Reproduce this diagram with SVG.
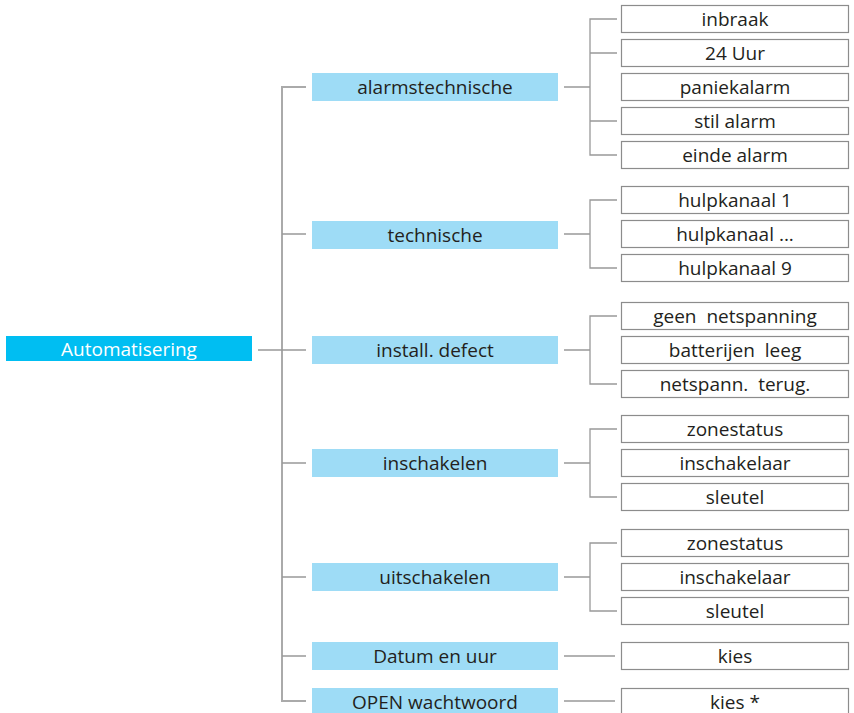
<svg xmlns="http://www.w3.org/2000/svg" width="854" height="713" viewBox="0 0 854 713">
<style>
.root{fill:#00bef2}
.mid{fill:#9edcf6}
.leaf{fill:#fff;stroke:#8c8c8c;stroke-width:1.2}
.t{font-family:"Open Sans","Liberation Sans",sans-serif;font-size:19px;fill:#231f20;text-anchor:middle}
.tw{fill:#fff}
.c{stroke:#999;stroke-width:1.3;fill:none}
.trunk{stroke:#aaa;stroke-width:2;fill:none}
</style>
<rect width="854" height="713" fill="#fff"/>
<g id="connectors">
  <path class="trunk" d="M306 87H282V701H306"/>
  <path class="c" d="M258 350H306M282 234H306M282 463H306M282 577H306M282 656H306"/>
  <path class="c" d="M564 87H590M617 19H590V155H617M590 53H617M590 121H617"/>
  <path class="c" d="M564 234H590M617 200H590V268H617"/>
  <path class="c" d="M564 350H590M617 316H590V384H617"/>
  <path class="c" d="M564 463H590M617 429H590V497H617"/>
  <path class="c" d="M564 577H590M617 543H590V611H617"/>
  <path class="c" d="M564 656H615M564 701H615"/>
</g>
<g id="n-root"><rect class="root" x="6" y="336" width="246" height="25"/><text class="t tw" x="129" y="356">Automatisering</text></g>
<g id="n-alarm"><rect class="mid" x="312" y="73" width="246" height="28"/><text class="t" x="435" y="94">alarmstechnische</text></g>
<g id="n-tech"><rect class="mid" x="312" y="221" width="246" height="28"/><text class="t" x="435" y="242">technische</text></g>
<g id="n-install"><rect class="mid" x="312" y="336" width="246" height="28"/><text class="t" x="435" y="357">install. defect</text></g>
<g id="n-in"><rect class="mid" x="312" y="449" width="246" height="28"/><text class="t" x="435" y="470">inschakelen</text></g>
<g id="n-uit"><rect class="mid" x="312" y="563" width="246" height="28"/><text class="t" x="435" y="584">uitschakelen</text></g>
<g id="n-datum"><rect class="mid" x="312" y="642" width="246" height="28"/><text class="t" x="435" y="663">Datum en uur</text></g>
<g id="n-open"><rect class="mid" x="312" y="688" width="246" height="28"/><text class="t" x="435" y="709">OPEN wachtwoord</text></g>

<g id="l-inbraak"><rect class="leaf" x="621.5" y="5.5" width="227" height="27"/><text class="t" x="735" y="26">inbraak</text></g>
<g id="l-24uur"><rect class="leaf" x="621.5" y="39.5" width="227" height="27"/><text class="t" x="735" y="60">24 Uur</text></g>
<g id="l-paniek"><rect class="leaf" x="621.5" y="73.5" width="227" height="27"/><text class="t" x="735" y="94">paniekalarm</text></g>
<g id="l-stil"><rect class="leaf" x="621.5" y="107.5" width="227" height="27"/><text class="t" x="735" y="128">stil alarm</text></g>
<g id="l-einde"><rect class="leaf" x="621.5" y="141.5" width="227" height="27"/><text class="t" x="735" y="162">einde alarm</text></g>

<g id="l-hulp1"><rect class="leaf" x="621.5" y="186.5" width="227" height="27"/><text class="t" x="735" y="207">hulpkanaal 1</text></g>
<g id="l-hulpx"><rect class="leaf" x="621.5" y="220.5" width="227" height="27"/><text class="t" x="735" y="241">hulpkanaal ...</text></g>
<g id="l-hulp9"><rect class="leaf" x="621.5" y="254.5" width="227" height="27"/><text class="t" x="735" y="275">hulpkanaal 9</text></g>

<g id="l-geen"><rect class="leaf" x="621.5" y="302.5" width="227" height="27"/><text class="t" x="735" y="323" xml:space="preserve">geen  netspanning</text></g>
<g id="l-batt"><rect class="leaf" x="621.5" y="336.5" width="227" height="27"/><text class="t" x="735" y="357" xml:space="preserve">batterijen  leeg</text></g>
<g id="l-terug"><rect class="leaf" x="621.5" y="370.5" width="227" height="27"/><text class="t" x="735" y="391" xml:space="preserve">netspann.  terug.</text></g>

<g id="l-zone1"><rect class="leaf" x="621.5" y="415.5" width="227" height="27"/><text class="t" x="735" y="436">zonestatus</text></g>
<g id="l-insch1"><rect class="leaf" x="621.5" y="449.5" width="227" height="27"/><text class="t" x="735" y="470">inschakelaar</text></g>
<g id="l-sleutel1"><rect class="leaf" x="621.5" y="483.5" width="227" height="27"/><text class="t" x="735" y="504">sleutel</text></g>

<g id="l-zone2"><rect class="leaf" x="621.5" y="529.5" width="227" height="27"/><text class="t" x="735" y="550">zonestatus</text></g>
<g id="l-insch2"><rect class="leaf" x="621.5" y="563.5" width="227" height="27"/><text class="t" x="735" y="584">inschakelaar</text></g>
<g id="l-sleutel2"><rect class="leaf" x="621.5" y="597.5" width="227" height="27"/><text class="t" x="735" y="618">sleutel</text></g>

<g id="l-kies"><rect class="leaf" x="621.5" y="642.5" width="227" height="27"/><text class="t" x="735" y="663">kies</text></g>
<g id="l-kies2"><rect class="leaf" x="621.5" y="688.5" width="227" height="27"/><text class="t" x="735" y="709">kies *</text></g>
</svg>
